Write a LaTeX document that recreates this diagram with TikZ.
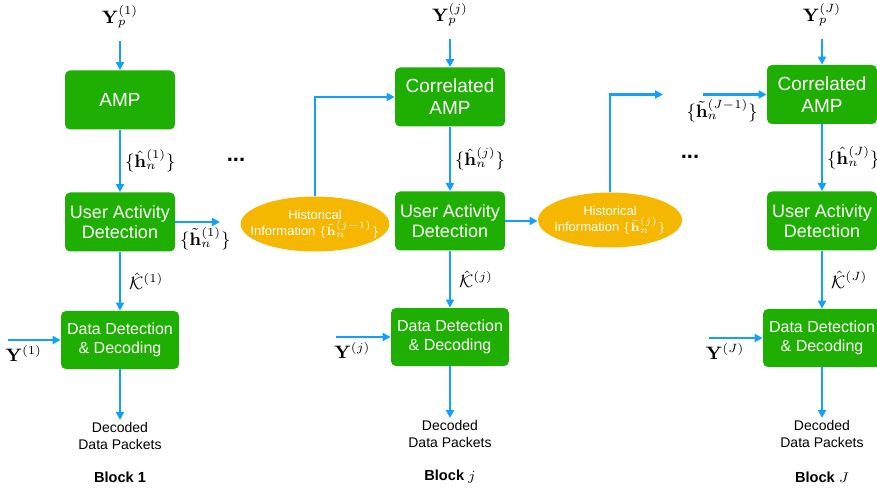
\documentclass[tikz,border=0pt]{standalone}
\usepackage{amsmath}
\usepackage{amssymb}
\usepackage[no-math]{fontspec}
\setmainfont{Liberation Sans}
\usepackage{tikz}
\usetikzlibrary{shapes.geometric,arrows.meta}

\definecolor{boxgreen}{RGB}{31,175,3}
\definecolor{infoorange}{RGB}{245,183,0}
\definecolor{flowblue}{RGB}{18,160,250}

\begin{document}
\begin{tikzpicture}[
    x=0.5pt, y=-0.5pt,
    stage/.style={fill=boxgreen, rounded corners=2.5pt, text=white, align=center, minimum width=55pt, minimum height=29.5pt, inner sep=1pt, font=\fontsize{9}{10}\selectfont},
    decstage/.style={stage, minimum width=59pt, minimum height=29pt, font=\fontsize{8}{9.5}\selectfont},
    history/.style={ellipse, fill=infoorange, text=white, align=center, minimum width=72pt, minimum height=27.5pt, inner xsep=-6pt, inner ysep=0pt, font=\fontsize{6.5}{8}\selectfont},
    lbl/.style={inner sep=2pt, font=\fontsize{9}{10}\selectfont},
    outtxt/.style={align=center, inner sep=1pt, font=\fontsize{7}{8.5}\selectfont},
    caption/.style={inner sep=1pt, font=\fontsize{7.3}{8.5}\selectfont\bfseries},
    arrow/.style={-{Triangle[length=4pt, width=4pt]}, line width=1.2pt, draw=flowblue}
]
\useasboundingbox (0,0) rectangle (877,491);
\clip (0,0) rectangle (877,491);

% block 1
\node[lbl] (yp1) at (120,17) {$\mathbf{Y}_p^{(1)}$};
\node[stage, font=\fontsize{9.5}{11}\selectfont] (amp1) at (120,100) {AMP};
\node[stage] (uad1) at (120,222) {User Activity\\Detection};
\node[decstage] (dec1) at (120,340) {Data Detection\\\& Decoding};
\node[outtxt] (out1) at (120,436) {Decoded\\Data Packets};
\node[caption] (blk1) at (120,477) {Block 1};
\coordinate (in1) at (8,340);
\coordinate (gap1) at (220,222);

% block j
\node[lbl] (ypj) at (450,15) {$\mathbf{Y}_p^{(j)}$};
\node[stage, font=\fontsize{9.5}{11}\selectfont] (ampj) at (450,97) {Correlated\\AMP};
\node[stage] (uadj) at (450,221) {User Activity\\Detection};
\node[decstage] (decj) at (450,337) {Data Detection\\\& Decoding};
\node[outtxt] (outj) at (450,434) {Decoded\\Data Packets};
\node[caption] (blkj) at (450,477) {Block $j$};
\coordinate (inj) at (336,337);

% block J
\node[lbl] (ypJ) at (822,15) {$\mathbf{Y}_p^{(J)}$};
\node[stage, font=\fontsize{9.5}{11}\selectfont] (ampJ) at (822,94.5) {Correlated\\AMP};
\node[stage] (uadJ) at (822,221) {User Activity\\Detection};
\node[decstage] (decJ) at (822,338) {Data Detection\\\& Decoding};
\node[outtxt] (outJ) at (822,434) {Decoded\\Data Packets};
\node[caption] (blkJ) at (822,477) {Block $J$};
\coordinate (inJ) at (709,338);

% history between blocks
\node[history] (hist1) at (315,224) {Historical\\Information $\{\tilde{\mathbf{h}}_n^{(j-1)}\}$};
\node[history] (hist2) at (610,220) {Historical\\Information $\{\tilde{\mathbf{h}}_n^{(j)}\}$};
\coordinate (gapL) at (663,94.5);
\coordinate (gapR) at (703,94.5);

\node[lbl, font=\fontsize{11}{12}\selectfont\bfseries] (dots1) at (236,160) {...};
\node[lbl, font=\fontsize{11}{12}\selectfont\bfseries] (dots2) at (690,157) {...};

\foreach \b in {1,j,J} {
  \draw[arrow, shorten <=4pt] (yp\b) -- (amp\b);
  \draw[arrow] (amp\b) -- node[lbl, right] {$\{\hat{\mathbf{h}}_n^{(\b)}\}$} (uad\b);
  \draw[arrow] (uad\b) -- node[lbl, right, xshift=2pt] {$\hat{\mathcal{K}}^{(\b)}$} (dec\b);
  \draw[arrow] (dec\b) -- (out\b);
  \draw[arrow] (in\b) -- node[lbl, below, pos=0.3] {$\mathbf{Y}^{(\b)}$} (dec\b);
}

\draw[arrow] (uad1) -- node[lbl, below, pos=0.67] {$\{\tilde{\mathbf{h}}_n^{(1)}\}$} (gap1);
\draw[arrow] (hist1) |- (ampj);
\draw[arrow] (uadj.east) -- (uadj.east -| hist2.west);
\draw[arrow] (hist2) |- (gapL);
\draw[arrow] (gapR) -- node[lbl, below, pos=0.3] {$\{\tilde{\mathbf{h}}_n^{(J-1)}\}$} (ampJ);
\end{tikzpicture}
\end{document}
